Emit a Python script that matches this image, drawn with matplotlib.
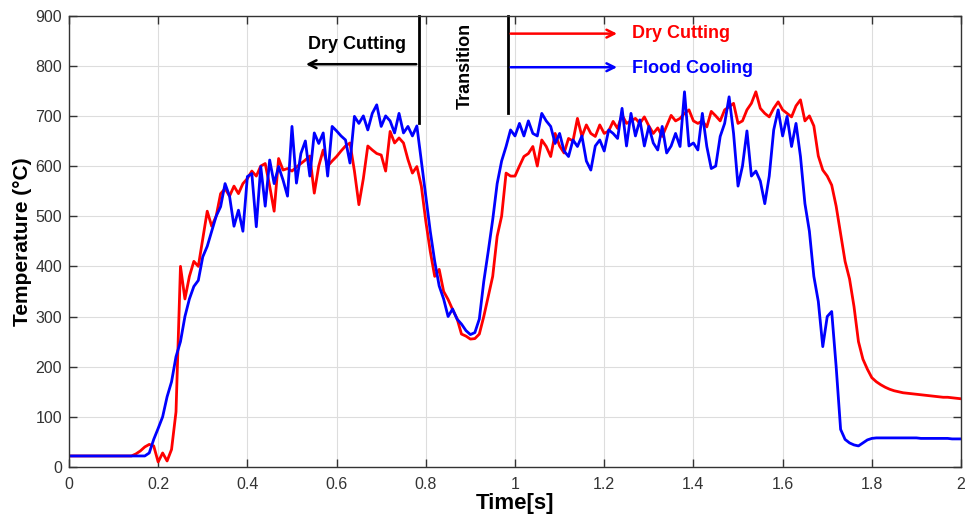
import numpy as np
import matplotlib
matplotlib.use('Agg')
import matplotlib.pyplot as plt

plt.rcParams['font.family'] = ['Liberation Sans', 'DejaVu Sans']

# time axis, 0.01 s sampling
time_s = np.round(np.arange(0, 201) * 0.01, 2)

# Dry cutting (red)
dry_temp = [
    22, 22, 22, 22, 22, 22, 22, 22, 22, 22,
    22, 22, 22, 22, 22, 26, 32, 40, 45, 42,
    10, 28, 12, 35, 110, 400, 335, 380, 410, 400,
    455, 510, 480, 500, 545, 555, 540, 560, 545, 565,
    575, 590, 580, 600, 605, 560, 510, 615, 592, 595,
    590, 598, 605, 612, 620, 546, 600, 632, 600, 610,
    619, 630, 640, 646, 590, 523, 575, 640, 632, 625,
    622, 590, 669, 646, 656, 646, 613, 586, 599, 560,
    490, 430, 380, 394, 350, 334, 314, 296, 265, 261,
    255, 256, 265, 300, 340, 380, 460, 500, 586, 580,
    580, 600, 619, 625, 639, 600, 652, 639, 619, 665,
    640, 626, 655, 650, 695, 659, 682, 665, 659, 682,
    665, 670, 689, 675, 702, 685, 690, 695, 685, 698,
    680, 665, 676, 659, 680, 701, 690, 695, 705, 712,
    690, 685, 690, 678, 709, 700, 690, 712, 718, 725,
    685, 690, 712, 725, 748, 715, 705, 698, 715, 728,
    712, 705, 698, 720, 732, 690, 700, 680, 620, 592,
    580, 562, 520, 465, 410, 375, 320, 250, 215, 195,
    178, 170, 164, 159, 155, 152, 150, 148, 147, 146,
    145, 144, 143, 142, 141, 140, 139, 139, 138, 137,
    136,
]

# Flood cooling (blue)
flood_temp = [
    22, 22, 22, 22, 22, 22, 22, 22, 22, 22,
    22, 22, 22, 22, 22, 22, 22, 22, 28, 55,
    77, 100, 140, 170, 220, 250, 300, 335, 360, 372,
    419, 440, 470, 500, 519, 565, 540, 480, 512, 470,
    579, 585, 479, 599, 520, 612, 565, 599, 572, 540,
    679, 566, 625, 650, 580, 666, 645, 666, 580, 679,
    670, 660, 652, 606, 699, 685, 700, 672, 705, 722,
    679, 700, 690, 666, 705, 666, 679, 660, 680, 610,
    540, 470, 410, 361, 335, 300, 315, 295, 285, 272,
    264, 268, 295, 370, 430, 493, 565, 610, 639, 672,
    660, 685, 660, 690, 665, 660, 705, 690, 679, 645,
    665, 630, 619, 652, 639, 660, 610, 592, 640, 652,
    630, 672, 665, 655, 715, 640, 705, 660, 692, 640,
    679, 646, 632, 679, 626, 640, 665, 639, 748, 640,
    646, 632, 705, 639, 595, 600, 659, 685, 738, 665,
    560, 600, 670, 580, 590, 570, 525, 580, 672, 712,
    660, 699, 639, 685, 619, 525, 470, 380, 330, 240,
    300, 310, 200, 75, 55, 48, 44, 42, 48, 54,
    57, 58, 58, 58, 58, 58, 58, 58, 58, 58,
    58, 57, 57, 57, 57, 57, 57, 57, 56, 56,
    56,
]

fig = plt.figure(figsize=(9.74, 5.19), dpi=100)
ax = fig.add_axes([0.0708, 0.1002, 0.9159, 0.8698])

ax.plot(time_s, dry_temp, color='#ff0000', lw=2)
ax.plot(time_s, flood_temp, color='#0000ff', lw=2)

ax.set_xlim(0, 2)
ax.set_ylim(0, 900)
ax.set_xticks(np.arange(0, 2.01, 0.2))
ax.set_xticklabels(['0', '0.2', '0.4', '0.6', '0.8', '1', '1.2', '1.4', '1.6', '1.8', '2'])
ax.set_yticks(np.arange(0, 901, 100))
ax.grid(True, color='#dddddd', lw=0.8)
ax.set_axisbelow(True)
ax.tick_params(direction='in', length=6, width=1, colors='#333333', labelsize=11.5,
               top=True, right=True)
ax.tick_params(axis='x', pad=7)
ax.tick_params(axis='y', pad=5)
for sp in ax.spines.values():
    sp.set_color('#333333')
    sp.set_linewidth(1)

ax.set_xlabel('Time[s]', fontsize=16, fontweight='bold', labelpad=1)
ax.set_ylabel('Temperature (\u00b0C)', fontsize=15, fontweight='bold', labelpad=2)

# phase annotations
ax.plot([0.785, 0.785], [900, 685], color='black', lw=2, clip_on=False)
ax.plot([0.984, 0.984], [900, 705], color='black', lw=2, clip_on=False)

ax.annotate('', xy=(0.525, 803), xytext=(0.785, 803),
            arrowprops=dict(arrowstyle='->', color='black', lw=1.8, mutation_scale=14))
ax.text(0.645, 843, 'Dry Cutting', ha='center', va='center', fontsize=13, fontweight='bold')

ax.text(0.888, 800, 'Transition', ha='center', va='center', rotation=90,
        fontsize=13, fontweight='bold')

ax.annotate('', xy=(1.235, 864), xytext=(0.984, 864),
            arrowprops=dict(arrowstyle='->', color='#ff0000', lw=1.8, mutation_scale=14))
ax.text(1.262, 864, 'Dry Cutting', ha='left', va='center', fontsize=13,
        fontweight='bold', color='#ff0000')

ax.annotate('', xy=(1.235, 797), xytext=(0.984, 797),
            arrowprops=dict(arrowstyle='->', color='#0000ff', lw=1.8, mutation_scale=14))
ax.text(1.262, 795, 'Flood Cooling', ha='left', va='center', fontsize=13,
        fontweight='bold', color='#0000ff')

fig.savefig('out.png', dpi=100)
